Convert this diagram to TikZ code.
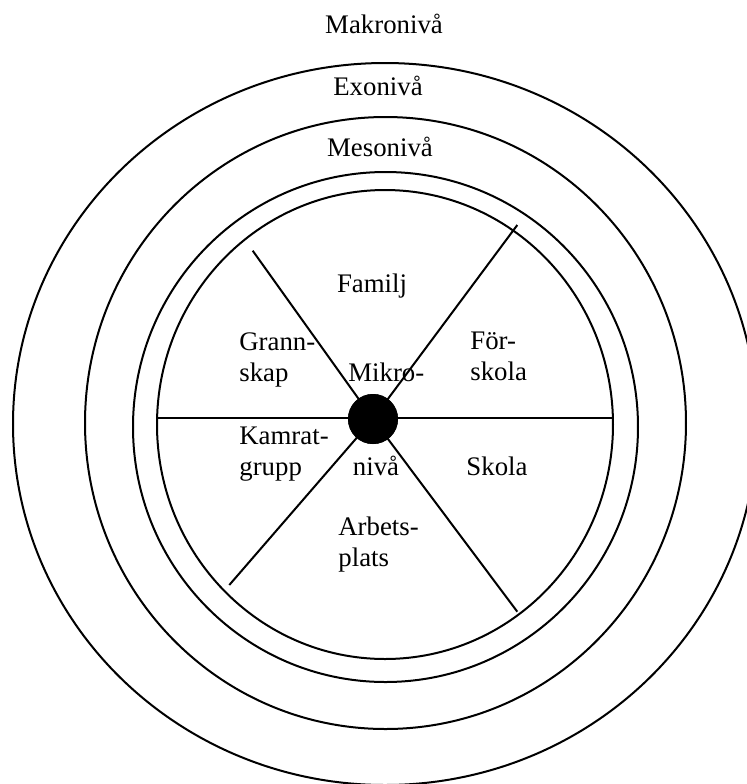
\documentclass[tikz,border=0pt]{standalone}
\usepackage{fontspec}
\setmainfont{Liberation Serif}
\begin{document}
\begin{tikzpicture}[x=0.5pt,y=-0.5pt,
  ring/.style={line width=1pt},
  spoke/.style={line width=1pt},
  lbl/.style={inner sep=0pt, font=\fontsize{13.4}{15.5}\selectfont},
  lblm/.style={lbl, align=left, anchor=west},
  dotnode/.style={circle, fill=black, inner sep=0pt, minimum size=25pt}]
\useasboundingbox (0,0) rectangle (747,784);
\fill[white] (0,0) rectangle (747,784);
\clip (0,0) rectangle (747,784);
% rings
\draw[ring] (385,424) ellipse [x radius=372, y radius=361];
\draw[ring] (385.5,423) ellipse [x radius=300.5, y radius=306];
\draw[ring] (385.5,427) ellipse [x radius=252.5, y radius=255];
\draw[ring] (385,424.5) ellipse [x radius=228, y radius=234.5];
% spokes
\coordinate (hl) at (157,418);
\coordinate (hr) at (613,418);
\coordinate (ul) at (252.7,250.7);
\coordinate (ur) at (517.3,225);
\coordinate (ll) at (229.3,585);
\coordinate (lr) at (517.3,611.7);
\node[dotnode] (dot) at (373,419) {};
\draw[spoke] (hl) -- (hr);
\draw[spoke] (dot.center) -- (ul);
\draw[spoke] (dot.center) -- (ur);
\draw[spoke] (dot.center) -- (ll);
\draw[spoke] (dot.center) -- (lr);
\node[dotnode] at (dot.center) {};
% labels
\node[lbl, anchor=base] (makro) at (384,33) {Makronivå};
\node[lbl, anchor=base] (exo) at (378,95) {Exonivå};
\node[lbl, anchor=base] (meso) at (380,156) {Mesonivå};
\node[lbl, anchor=base] (familj) at (372,292) {Familj};
\node[lbl, anchor=base west] (mikro) at (348,381) {Mikro-};
\node[lbl, anchor=base] (niva) at (376,475) {nivå};
\node[lbl, anchor=base] (skola) at (497,475) {Skola};
\node[lblm] (grann) at (239,360) {Grann-\\skap};
\node[lblm] (kamrat) at (239,454) {Kamrat-\\grupp};
\node[lblm] (arbets) at (338,545) {Arbets-\\plats};
\node[lblm] (forskola) at (470,356) {För-\\skola};
\end{tikzpicture}
\end{document}
